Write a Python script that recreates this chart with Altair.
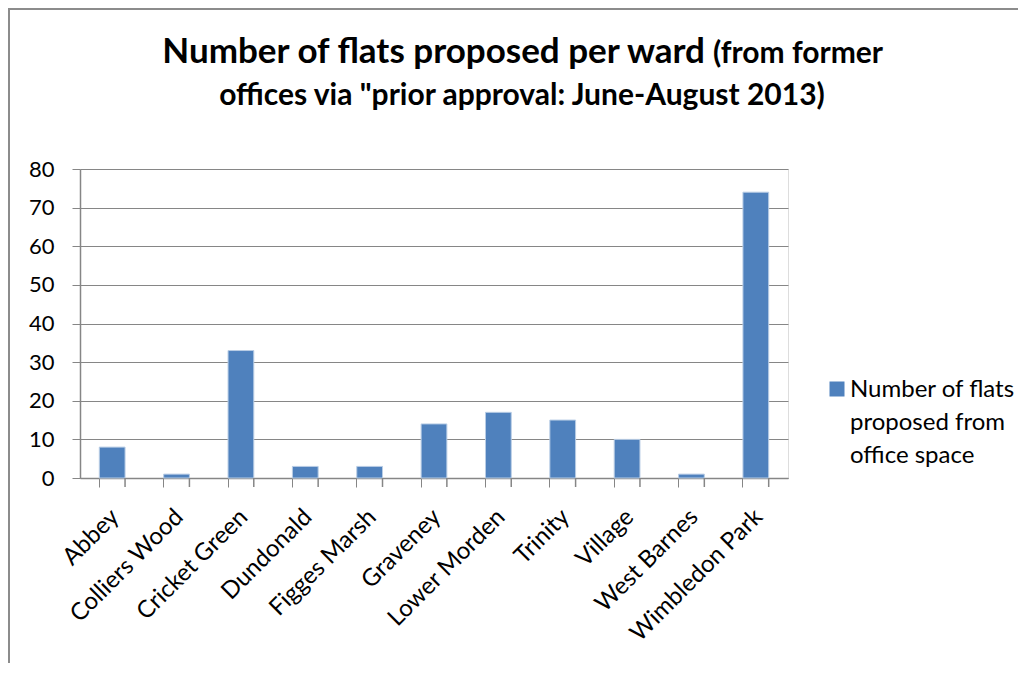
import altair as alt
import pandas as pd

wards = ["Abbey", "Colliers Wood", "Cricket Green", "Dundonald", "Figges Marsh",
         "Graveney", "Lower Morden", "Trinity", "Village", "West Barnes", "Wimbledon Park"]
flats = [8, 1, 33, 3, 3, 14, 17, 15, 10, 1, 74]
series_name = "Number of flats proposed from office space"
legend_lines = ["Number of flats", "proposed from", "office space"]
title_main = "Number of flats proposed per ward"
title_tail = "(from former"
title_line2 = "offices via \"prior approval: June-August 2013)"
y_ticks = [0, 10, 20, 30, 40, 50, 60, 70, 80]

W, H = 708, 309
FONT = "Lato"
GRID = "#868686"
BAR = "#4F81BD"

df = pd.DataFrame({"ward": wards, "flats": flats, "series": series_name})

xscale = alt.Scale(paddingInner=0.6, paddingOuter=0.3)
base = alt.Chart(df)

bars = base.mark_bar(color=BAR, stroke="#B9CDE5", strokeWidth=1).encode(
    x=alt.X("ward:N", sort=wards, scale=xscale,
            axis=alt.Axis(title=None, labelAngle=-45, labelAlign="right",
                          labelBaseline="middle", labelFontSize=24, labelFont=FONT,
                          labelColor="#000000", labelPadding=26, labelOffset=3,
                          bandPosition=0, tickSize=9, tickColor=GRID,
                          domainColor=GRID, domainWidth=1.5, grid=False)),
    y=alt.Y("flats:Q", scale=alt.Scale(domain=[0, 80], nice=False),
            axis=alt.Axis(title=None, values=y_ticks, labelFontSize=22, labelFont=FONT,
                          labelColor="#000000", labelPadding=18, tickSize=8,
                          tickColor=GRID, domainColor=GRID, domainWidth=1.5,
                          gridColor=GRID, gridWidth=1.2)),
)

end_ticks = base.mark_rule(color=GRID, strokeWidth=1.5).encode(
    x=alt.X("ward:N", sort=wards, scale=xscale, bandPosition=1),
    y=alt.value(H), y2=alt.value(H + 9),
)

one = alt.Data(values=[{"k": 1}])

t_main = alt.Chart(one).mark_text(
    text=title_main, font=FONT, fontWeight="bold", fontSize=35, align="right",
    baseline="alphabetic", color="#000000"
).encode(x=alt.value(625), y=alt.value(-106))

t_tail = alt.Chart(one).mark_text(
    text=title_tail, font=FONT, fontWeight="bold", fontSize=30, align="left",
    baseline="alphabetic", color="#000000"
).encode(x=alt.value(633), y=alt.value(-106))

t_line2 = alt.Chart(one).mark_text(
    text=title_line2, font=FONT, fontWeight="bold", fontSize=30, align="center",
    baseline="alphabetic", color="#000000"
).encode(x=alt.value(442), y=alt.value(-64))

leg_sq = alt.Chart(one).mark_square(size=225, color=BAR, opacity=1).encode(
    x=alt.value(757), y=alt.value(220))

leg_txt = alt.Chart(one).mark_text(
    text=legend_lines, font=FONT, fontSize=24, align="left", baseline="alphabetic",
    lineHeight=33, color="#000000"
).encode(x=alt.value(770), y=alt.value(228))

frame_left = alt.Chart(one).mark_rule(color="#8C8C8C", strokeWidth=2).encode(
    x=alt.value(-71), y=alt.value(-160), y2=alt.value(600))
frame_top = alt.Chart(one).mark_rule(color="#8C8C8C", strokeWidth=2).encode(
    x=alt.value(-72), x2=alt.value(1000), y=alt.value(-160))

chart = alt.layer(
    bars, end_ticks, t_main, t_tail, t_line2, leg_sq, leg_txt, frame_left, frame_top
).properties(
    width=W, height=H, autosize="none",
    padding={"left": 72, "top": 161, "right": 230, "bottom": 185},
).configure_view(stroke=None).configure(background="white")

chart.save("out.html", embed_options={"renderer": "svg", "actions": False})
